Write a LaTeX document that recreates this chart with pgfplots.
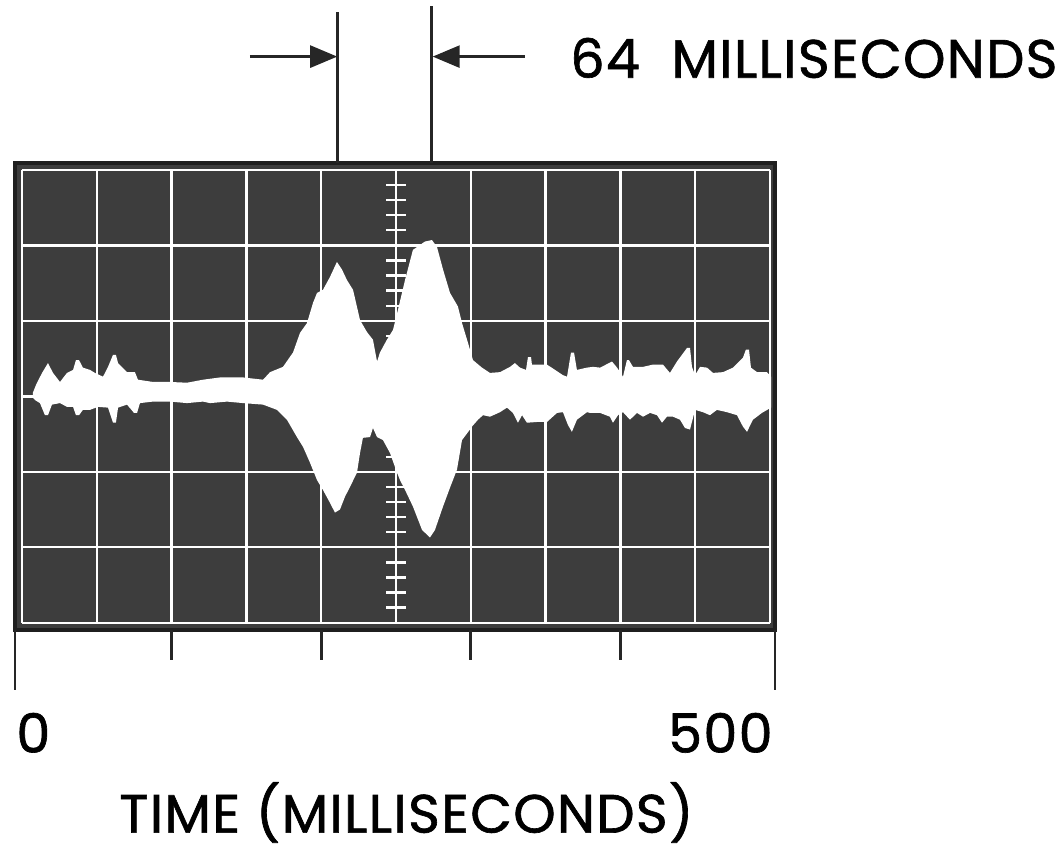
\documentclass[border=0pt]{standalone}
\usepackage{pgfplots}
\pgfplotsset{compat=1.18}
\usetikzlibrary{arrows.meta}
\usepackage{fontspec}
\setmainfont{Poppins}
\newfontfamily\leroy{Poppins}[FakeBold=1.2, LetterSpace=2.5]
\newcommand{\lbl}{\leroy\fontsize{27}{30}\selectfont}
\begin{document}
\begin{tikzpicture}
\begin{axis}[
  scale only axis, width=380pt, height=233.5pt,
  xmin=0, xmax=500, ymin=-3.093, ymax=3.093,
  axis background/.style={fill=black!76},
  axis line style={line width=2pt, black!88},
  xtick=\empty, ytick=\empty,
  clip=false,
]
% graticule
\pgfplotsinvokeforeach{4.6,53.8,103.0,152.2,201.4,250.7,299.9,349.1,398.3,447.5,496.7}{
  \draw[white, line width=1.2pt] (axis cs:#1,-3) -- (axis cs:#1,3);
}
\pgfplotsinvokeforeach{-3,-2,-1,0,1,2,3}{
  \draw[white, line width=1.2pt] (axis cs:4.6,#1) -- (axis cs:496.7,#1);
}
\pgfplotsinvokeforeach{-2.8,-2.6,-2.4,-2.2,-1.8,-1.6,-1.4,-1.2,-0.8,-0.6,-0.4,-0.2,0.2,0.4,0.6,0.8,1.2,1.4,1.6,1.8,2.2,2.4,2.6,2.8}{
  \draw[white, line width=1.2pt] (axis cs:244.1,#1) -- (axis cs:257.3,#1);
}
% signal envelope
\addplot[fill=white, draw=none] coordinates {
(11.8,0.05) (13.8,0.15) (17.8,0.31) (21.7,0.44) (25.0,0.31) (29.6,0.19) (34.2,0.31)
(38.2,0.35) (40.1,0.48) (42.1,0.48) (44.7,0.38) (49.3,0.35) (52.6,0.31) (57.9,0.26)
(61.2,0.39) (64.5,0.55) (66.4,0.55) (67.8,0.44) (73.7,0.32) (78.9,0.32) (80.9,0.22)
(90.8,0.19) (102.0,0.19) (113.2,0.18) (123.7,0.22) (134.9,0.25) (150.0,0.25)
(163.2,0.22) (167.8,0.32) (176.3,0.39) (182.9,0.58) (187.5,0.84) (192.1,0.97)
(196.1,1.24) (198.7,1.37) (202.6,1.41) (207.2,1.58) (211.8,1.78) (215.1,1.68)
(218.4,1.54) (222.4,1.41) (227.0,1.01) (231.6,0.85) (235.5,0.75) (238.2,0.46)
(240.1,0.58) (244.7,0.75) (248.7,0.88) (252.0,1.15) (256.6,1.54) (261.8,1.94)
(269.7,2.05) (274.3,2.07) (277.6,1.98) (281.6,1.68) (286.2,1.37) (291.4,1.19)
(294.1,0.97) (298.0,0.71) (301.3,0.48) (307.2,0.38) (312.5,0.31) (319.1,0.32)
(325.7,0.39) (328.9,0.44) (332.2,0.38) (336.2,0.35) (337.5,0.52) (339.5,0.52)
(340.1,0.42) (345.4,0.42) (350.0,0.42) (355.3,0.35) (360.5,0.28) (363.2,0.26)
(365.8,0.58) (367.8,0.58) (369.7,0.35) (376.3,0.38) (380.3,0.39) (384.9,0.38)
(392.8,0.46) (396.1,0.38) (400.0,0.26) (402.6,0.48) (403.9,0.48) (406.6,0.39)
(413.2,0.39) (419.7,0.42) (426.3,0.42) (430.9,0.31) (435.5,0.46) (438.8,0.55)
(442.1,0.64) (444.1,0.64) (445.4,0.39) (447.4,0.28) (450.7,0.39) (455.3,0.38)
(459.2,0.31) (465.8,0.32) (472.4,0.38) (478.9,0.51) (480.9,0.62) (482.9,0.62)
(484.2,0.38) (488.2,0.32) (494.7,0.32) (497.4,0.26)
(497.4,-0.15) (491.4,-0.22) (485.5,-0.31) (481.6,-0.47) (478.9,-0.40) (475.0,-0.25)
(468.4,-0.21) (461.8,-0.18) (457.2,-0.25) (452.6,-0.21) (447.4,-0.18) (444.1,-0.44)
(440.8,-0.42) (437.5,-0.31) (432.9,-0.27) (428.9,-0.27) (425.7,-0.35) (422.4,-0.25)
(417.8,-0.22) (413.2,-0.27) (409.2,-0.22) (404.6,-0.31) (400.0,-0.21) (396.7,-0.25)
(393.4,-0.35) (391.4,-0.27) (384.9,-0.22) (378.3,-0.22) (376.3,-0.21) (369.7,-0.31)
(366.4,-0.47) (363.8,-0.38) (360.5,-0.21) (356.6,-0.22) (350.0,-0.34) (343.4,-0.34)
(336.8,-0.35) (333.6,-0.25) (330.9,-0.35) (327.6,-0.22) (323.7,-0.15) (319.1,-0.21)
(312.5,-0.27) (307.9,-0.25) (304.6,-0.31) (300.7,-0.40) (299.3,-0.44) (294.1,-0.58)
(290.8,-0.97) (286.2,-1.21) (281.6,-1.46) (276.3,-1.77) (273.0,-1.87) (267.8,-1.77)
(261.8,-1.46) (256.6,-1.24) (253.3,-1.11) (251.3,-1.01) (246.7,-0.75) (242.1,-0.58)
(238.2,-0.54) (235.5,-0.42) (233.6,-0.54) (228.9,-0.55) (227.0,-0.75) (225.0,-1.01)
(220.4,-1.20) (217.1,-1.33) (213.8,-1.50) (210.5,-1.54) (207.2,-1.41) (202.6,-1.24)
(198.7,-1.11) (194.1,-0.88) (189.5,-0.67) (185.5,-0.54) (178.9,-0.31) (172.4,-0.18)
(163.2,-0.11) (150.0,-0.09) (139.5,-0.07) (128.3,-0.09) (123.7,-0.07) (113.2,-0.09)
(102.0,-0.07) (90.8,-0.07) (82.2,-0.09) (80.3,-0.22) (78.3,-0.22) (73.7,-0.11)
(67.8,-0.15) (66.4,-0.35) (64.5,-0.35) (61.2,-0.15) (54.6,-0.14) (49.3,-0.18)
(44.7,-0.18) (42.1,-0.25) (40.1,-0.25) (38.2,-0.14) (34.2,-0.14) (29.6,-0.09)
(24.3,-0.11) (21.7,-0.25) (19.7,-0.25) (16.4,-0.09) (13.2,-0.05) (11.8,-0.02)
} -- cycle;
% time scale below the screen
\draw[black!85, line width=1.4pt] (axis cs:0,-3.093) -- (axis cs:0,-3.89);
\draw[black!85, line width=1.4pt] (axis cs:500,-3.093) -- (axis cs:500,-3.89);
\pgfplotsinvokeforeach{103.0,201.4,299.9,398.3}{
  \draw[black!85, line width=1.4pt] (axis cs:#1,-3.093) -- (axis cs:#1,-3.49);
}
\node[anchor=base west, inner sep=0pt, font=\lbl] at (axis cs:0.66,-4.72) {0};
\node[anchor=base east, inner sep=0pt, font=\lbl] at (axis cs:498.7,-4.72) {500};
\node[anchor=base, inner sep=0pt, font=\lbl] at (axis cs:257.5,-5.78) {TIME (MILLISECONDS)};
% 64 ms marker
\draw[black!85, line width=1.5pt] (axis cs:212.5,3.093) -- (axis cs:212.5,5.09);
\draw[black!85, line width=1.5pt] (axis cs:274.3,3.093) -- (axis cs:274.3,5.17);
\draw[black!85, line width=1.3pt, -{Triangle[length=13.5pt,width=11pt]}] (axis cs:154.6,4.50) -- (axis cs:212.0,4.50);
\draw[black!85, line width=1.3pt, -{Triangle[length=13.5pt,width=11pt]}] (axis cs:335.5,4.50) -- (axis cs:274.8,4.50);
\node[anchor=base west, inner sep=0pt, font=\lbl] at (axis cs:365.1,4.22) {64\ \ MILLISECONDS};
\path (axis cs:-9.87,5.25) rectangle (axis cs:689.5,-6.02);
\end{axis}
\end{tikzpicture}
\end{document}
